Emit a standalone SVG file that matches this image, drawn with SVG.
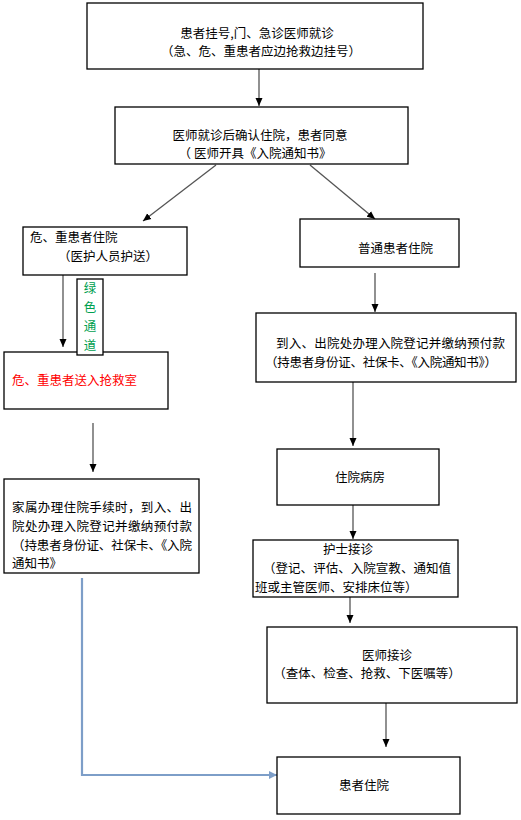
<svg xmlns="http://www.w3.org/2000/svg" width="521" height="820" viewBox="0 0 521 820">
<defs>
<marker id="ah" markerUnits="userSpaceOnUse" markerWidth="8" markerHeight="8" refX="8" refY="4" orient="auto">
<path d="M0,0.5 L8,4 L0,7.5 z" fill="#000"/>
</marker>
<marker id="ahb" markerUnits="userSpaceOnUse" markerWidth="9" markerHeight="9" refX="8" refY="4.5" orient="auto">
<path d="M0,0.5 L8,4.5 L0,8.5 z" fill="#7d9ec8"/>
</marker>
</defs>
<style>
rect.n{fill:#fff;stroke:#000;stroke-width:1.3}
text{font-family:"Noto Sans CJK SC","Noto Sans",sans-serif;font-size:12.5px;fill:#000}
.m{text-anchor:middle}
.c{fill:none;stroke:#555;stroke-width:1.3;marker-end:url(#ah)}
.b{fill:none;stroke:#7d9ec8;stroke-width:2.2;marker-end:url(#ahb)}
</style>
<rect width="521" height="820" fill="#fff"/>
<g id="connectors">
<line class="c" x1="259" y1="69" x2="259" y2="106"/>
<line class="c" x1="216" y1="165" x2="143" y2="221"/>
<line class="c" x1="310" y1="165" x2="375" y2="219"/>
<line class="c" x1="375" y1="273" x2="375" y2="312"/>
<line class="c" x1="63" y1="275" x2="63" y2="347"/>
<line class="c" x1="93" y1="423" x2="93" y2="472"/>
<line class="c" x1="353" y1="382" x2="353" y2="446"/>
<line class="c" x1="353" y1="505" x2="353" y2="539"/>
<line class="c" x1="350" y1="597" x2="350" y2="623"/>
<line class="c" x1="386" y1="703" x2="386" y2="747"/>
<path class="b" d="M82,578 V775 H277"/>
</g>
<g id="n1">
<rect class="n" x="87" y="3" width="336" height="66"/>
<text class="m" x="257" y="38">患者挂号,门、急诊医师就诊</text>
<text class="m" x="261" y="56">（急、危、重患者应边抢救边挂号）</text>
</g>
<g id="n2">
<rect class="n" x="115" y="107" width="293" height="57"/>
<text class="m" x="260" y="140">医师就诊后确认住院，患者同意</text>
<text class="m" x="255" y="158">（ 医师开具《入院通知书》</text>
</g>
<g id="n3">
<rect class="n" x="23" y="227" width="164" height="48"/>
<text x="30" y="242">危、重患者住院</text>
<text x="58" y="261">（医护人员护送）</text>
</g>
<g id="n4">
<rect class="n" x="300" y="219" width="159" height="48"/>
<text x="358" y="253">普通患者住院</text>
</g>
<g id="n5">
<rect class="n" x="4" y="352" width="164" height="57"/>
<text x="12" y="385" style="fill:#ff0000">危、重患者送入抢救室</text>
</g>
<g id="n6">
<rect class="n" x="77" y="279" width="26" height="76"/>
<text class="m" x="90" y="293" style="fill:#00a050">绿</text>
<text class="m" x="90" y="312" style="fill:#00a050">色</text>
<text class="m" x="90" y="331" style="fill:#00a050">通</text>
<text class="m" x="90" y="350" style="fill:#00a050">道</text>
</g>
<g id="n7">
<rect class="n" x="256" y="313" width="260" height="69"/>
<text x="276" y="348" textLength="229">到入、出院处办理入院登记并缴纳预付款</text>
<text x="265" y="367" textLength="232">（持患者身份证、社保卡、《入院通知书》）</text>
</g>
<g id="n8">
<rect class="n" x="4" y="479" width="195" height="94"/>
<text x="12" y="512" textLength="180">家属办理住院手续时，到入、出</text>
<text x="12" y="531" textLength="180">院处办理入院登记并缴纳预付款</text>
<text x="12" y="550" textLength="180">（持患者身份证、社保卡、《入院</text>
<text x="12" y="568">通知书》</text>
</g>
<g id="n9">
<rect class="n" x="277" y="449" width="162" height="56"/>
<text class="m" x="360" y="482">住院病房</text>
</g>
<g id="n10">
<rect class="n" x="253" y="540" width="205" height="57"/>
<text x="323" y="554">护士接诊</text>
<text x="263" y="573" textLength="188">（登记、评估、入院宣教、通知值</text>
<text x="255" y="592">班或主管医师、安排床位等）</text>
</g>
<g id="n11">
<rect class="n" x="267" y="627" width="250" height="76"/>
<text class="m" x="387" y="660">医师接诊</text>
<text class="m" x="367" y="678">（查体、检查、抢救、下医嘱等）</text>
</g>
<g id="n12">
<rect class="n" x="277" y="757" width="183" height="57"/>
<text class="m" x="364" y="790">患者住院</text>
</g>
</svg>
